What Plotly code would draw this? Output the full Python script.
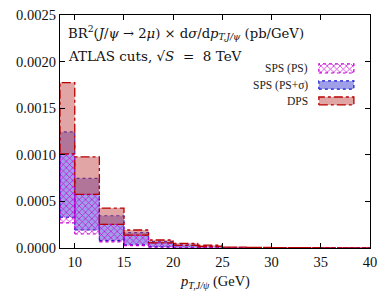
import plotly.graph_objects as go

# bin edges in p_T (GeV)
edges = [8.5, 10, 12.5, 15, 17.5, 20, 22.5, 25, 27.5, 30, 32.5, 35, 37.5, 40]

# DPS band (lower / upper)
dps_lo = [1.010e-3, 0.575e-3, 0.254e-3, 0.139e-3, 0.055e-3, 0.028e-3, 0.016e-3,
          0.010e-3, 0.006e-3, 0.004e-3, 0.003e-3, 0.002e-3, 0.0015e-3]
dps_hi = [1.775e-3, 0.978e-3, 0.428e-3, 0.193e-3, 0.086e-3, 0.050e-3, 0.030e-3,
          0.018e-3, 0.012e-3, 0.008e-3, 0.006e-3, 0.004e-3, 0.003e-3]

# SPS (PS+sigma) band
sig_lo = [0.330e-3, 0.193e-3, 0.080e-3, 0.035e-3, 0.012e-3, 0.006e-3, 0.003e-3,
          0.002e-3, 0.001e-3, 0.0008e-3, 0.0005e-3, 0.0004e-3, 0.0003e-3]
sig_hi = [1.245e-3, 0.746e-3, 0.346e-3, 0.164e-3, 0.068e-3, 0.035e-3, 0.018e-3,
          0.010e-3, 0.006e-3, 0.004e-3, 0.003e-3, 0.002e-3, 0.0015e-3]

# SPS (PS) band
ps_lo = [0.270e-3, 0.150e-3, 0.065e-3, 0.025e-3, 0.008e-3, 0.004e-3, 0.002e-3,
         0.0015e-3, 0.001e-3, 0.0006e-3, 0.0004e-3, 0.0003e-3, 0.0002e-3]
ps_hi = [1.010e-3, 0.575e-3, 0.254e-3, 0.139e-3, 0.055e-3, 0.028e-3, 0.015e-3,
         0.009e-3, 0.005e-3, 0.0035e-3, 0.0025e-3, 0.0018e-3, 0.0012e-3]

y_ticks = [0.0, 0.0005, 0.0010, 0.0015, 0.0020, 0.0025]
x_ticks = [10, 15, 20, 25, 30, 35, 40]

FONT = "Liberation Serif"
TFONT = "DejaVu Serif"

BLUE_FILL = "rgba(80,80,215,0.55)"
BLUE_LINE = "rgb(20,20,210)"
PINK_FILL = "rgba(195,75,75,0.5)"
RED_LINE = "rgb(185,0,0)"
MAG = "rgb(200,0,210)"

HATCH = dict(shape="x", fgcolor=MAG, bgcolor="rgba(0,0,0,0)",
             size=4.5, solidity=0.28, fillmode="replace")


def boxes(lo, hi):
    xs, ys = [], []
    for i in range(len(lo)):
        x0, x1 = edges[i], edges[i + 1]
        xs += [x0, x1, x1, x0, x0, None]
        ys += [lo[i], lo[i], hi[i], hi[i], lo[i], None]
    return xs, ys


fig = go.Figure()

xs, ys = boxes(sig_lo, sig_hi)
fig.add_trace(go.Scatter(x=xs, y=ys, mode="lines", fill="toself", fillcolor=BLUE_FILL,
                         line=dict(color=BLUE_LINE, width=1.2, dash="dot"),
                         name="SPS (PS+σ)", showlegend=False, hoverinfo="skip"))

xs, ys = boxes(ps_lo, ps_hi)
fig.add_trace(go.Scatter(x=xs, y=ys, mode="lines", fill="toself",
                         fillcolor="rgba(0,0,0,0)", fillpattern=HATCH,
                         line=dict(color=MAG, width=1.2, dash="dot"),
                         name="SPS (PS)", showlegend=False, hoverinfo="skip"))

xs, ys = boxes(dps_lo, dps_hi)
fig.add_trace(go.Scatter(x=xs, y=ys, mode="lines", fill="toself", fillcolor=PINK_FILL,
                         line=dict(color=RED_LINE, width=1.3, dash="dashdot"),
                         name="DPS", showlegend=False, hoverinfo="skip"))

# legend swatches drawn on an overlay axis in [0,1] coordinates
sw = [
    ("SPS (PS)", 0.751, 0.790, dict(fillcolor="rgba(0,0,0,0)", fillpattern=HATCH,
                                    line=dict(color=MAG, width=1.2, dash="dot"))),
    ("SPS (PS+σ)", 0.682, 0.717, dict(fillcolor=BLUE_FILL,
                                      line=dict(color=BLUE_LINE, width=1.2, dash="dot"))),
    ("DPS", 0.614, 0.648, dict(fillcolor=PINK_FILL,
                               line=dict(color=RED_LINE, width=1.3, dash="dashdot"))),
]
for name, y0, y1, style in sw:
    x0, x1 = 0.835, 0.948
    fig.add_trace(go.Scatter(x=[x0, x1, x1, x0, x0], y=[y0, y0, y1, y1, y0],
                             mode="lines", fill="toself", xaxis="x2", yaxis="y2",
                             showlegend=False, hoverinfo="skip", **style))
    fig.add_annotation(x=0.806, y=(y0 + y1) / 2, xref="paper", yref="paper",
                       text=name, showarrow=False, xanchor="right", yanchor="middle",
                       font=dict(family=FONT, size=11.5, color="#222"))

fig.add_annotation(x=0.018, y=0.925, xref="paper", yref="paper", xanchor="left", yanchor="middle",
                   text="BR<sup>2</sup>(<i>J</i>/<i>ψ</i>&nbsp;→&nbsp;2<i>μ</i>)&nbsp;×&nbsp;d<i>σ</i>/d<i>p</i><sub><i>T,J/ψ</i></sub>&nbsp;(pb/GeV)",
                   showarrow=False, font=dict(family=TFONT, size=13.2, color="#111"))
fig.add_annotation(x=0.018, y=0.823, xref="paper", yref="paper", xanchor="left", yanchor="middle",
                   text="ATLAS cuts, √<i>S</i>&nbsp;&nbsp;=&nbsp;&nbsp;8&nbsp;TeV",
                   showarrow=False, font=dict(family=TFONT, size=13.5, color="#111"))

# x-axis title
fig.add_annotation(x=0.5, y=-0.147, xref="paper", yref="paper", xanchor="center", yanchor="middle",
                   text="<i>p</i><sub><i>T,J/ψ</i></sub> (GeV)", showarrow=False,
                   font=dict(family=FONT, size=14.5, color="#111"))

axis_common = dict(showgrid=False, zeroline=False, showline=True, linecolor="black", linewidth=1.3,
                   mirror="ticks", ticks="inside", ticklen=5, tickcolor="black", automargin=False,
                   tickfont=dict(family=FONT, size=14.5, color="#111"))

fig.update_layout(
    width=390, height=293,
    margin=dict(l=60, r=20, t=15, b=45),
    plot_bgcolor="white", paper_bgcolor="white",
    xaxis=dict(range=[8.5, 40], tickvals=x_ticks, **axis_common),
    yaxis=dict(range=[0, 0.0025], tickvals=y_ticks, tickformat=".4f", **axis_common),
    xaxis2=dict(range=[0, 1], overlaying="x", visible=False, fixedrange=True),
    yaxis2=dict(range=[0, 1], overlaying="y", visible=False, fixedrange=True),
    showlegend=False,
)

fig.write_html("out.html", config={"displayModeBar": False},
               post_script="document.body.style.margin='0px';")
